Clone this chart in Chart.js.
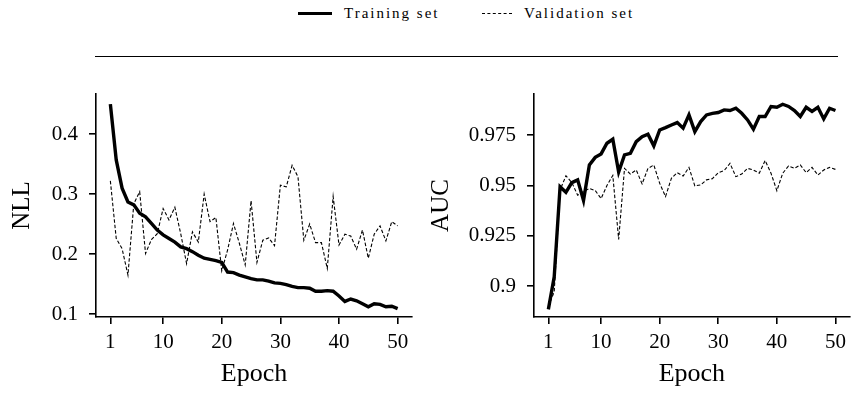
<!DOCTYPE html>
<html>
<head>
<meta charset="utf-8">
<script src="https://cdn.jsdelivr.net/npm/chart.js@4"></script>
<style>
  body { margin: 0; background: #fff; }
  #wrap { position: relative; width: 852px; height: 394px; font-family: "Liberation Serif", serif; }
  canvas { position: absolute; top: 0; }
  #nll { left: 0; }
  #auc { left: 426px; }
  .key { position: absolute; top: 5px; font-size: 15px; letter-spacing: 2px; color: #000; white-space: nowrap; }
  .sample { display: inline-block; width: 34px; vertical-align: middle; margin-right: 12px; position: relative; top: -1px; }
  #rule { position: absolute; left: 95px; top: 56px; width: 743px; height: 0; border-top: 1.8px solid #000; }
</style>
</head>
<body>
<div id="wrap">
  <div class="key" style="left:298px"><span class="sample" style="border-top:3px solid #000"></span>Training set</div>
  <div class="key" style="left:482px"><span class="sample" style="width:30px;border-top:1px dashed #000"></span>Validation set</div>
  <div id="rule"></div>
  <canvas id="nll" width="426" height="394"></canvas>
  <canvas id="auc" width="426" height="394"></canvas>
</div>
<script>
//=====================================
// data
//=====================================
var epochs = [];
for (let e = 1; e <= 50; e++) epochs.push(e);

var xTicks = [1, 10, 20, 30, 40, 50];

var nllTrain = [0.450, 0.357, 0.310, 0.287, 0.282, 0.268, 0.262, 0.251, 0.240, 0.232,
                0.226, 0.220, 0.212, 0.209, 0.204, 0.198, 0.193, 0.191, 0.189, 0.186,
                0.170, 0.169, 0.165, 0.162, 0.159, 0.157, 0.157, 0.155, 0.152, 0.151,
                0.149, 0.146, 0.144, 0.144, 0.143, 0.138, 0.138, 0.139, 0.138, 0.130,
                0.121, 0.125, 0.122, 0.117, 0.112, 0.117, 0.116, 0.112, 0.113, 0.109];
var nllValid = [0.322, 0.226, 0.209, 0.165, 0.284, 0.304, 0.201, 0.224, 0.234, 0.276,
                0.257, 0.278, 0.234, 0.184, 0.237, 0.220, 0.300, 0.254, 0.261, 0.172,
                0.207, 0.251, 0.218, 0.182, 0.289, 0.186, 0.223, 0.227, 0.214, 0.315,
                0.312, 0.348, 0.329, 0.223, 0.250, 0.219, 0.219, 0.176, 0.296, 0.215,
                0.233, 0.230, 0.208, 0.240, 0.193, 0.233, 0.247, 0.222, 0.254, 0.247];
var nllTicks = [0.1, 0.2, 0.3, 0.4];
var nllTickLabels = ["0.1", "0.2", "0.3", "0.4"];

var aucTrain = [0.8884, 0.9046, 0.9494, 0.9466, 0.9514, 0.9528, 0.9425, 0.9602, 0.9640, 0.9657,
                0.9710, 0.9730, 0.9567, 0.9652, 0.9660, 0.9718, 0.9743, 0.9755, 0.9697, 0.9776,
                0.9788, 0.9801, 0.9813, 0.9785, 0.9851, 0.9768, 0.9818, 0.9851, 0.9859, 0.9863,
                0.9876, 0.9873, 0.9884, 0.9859, 0.9826, 0.9780, 0.9843, 0.9843, 0.9893, 0.9889,
                0.9904, 0.9893, 0.9873, 0.9843, 0.9889, 0.9868, 0.9889, 0.9831, 0.9884, 0.9873];
var aucValid = [0.8897, 0.8972, 0.9478, 0.9548, 0.9515, 0.9452, 0.9470, 0.9485, 0.9475, 0.9435,
                0.9500, 0.9550, 0.9232, 0.9585, 0.9557, 0.9577, 0.9508, 0.9585, 0.9602, 0.9511,
                0.9445, 0.9536, 0.9564, 0.9547, 0.9590, 0.9498, 0.9503, 0.9528, 0.9534, 0.9564,
                0.9574, 0.9610, 0.9544, 0.9557, 0.9585, 0.9577, 0.9561, 0.9624, 0.9561, 0.9474,
                0.9561, 0.9597, 0.9585, 0.9602, 0.9564, 0.9590, 0.9552, 0.9577, 0.9590, 0.9580];
var aucTicks = [0.9, 0.925, 0.95, 0.975];
var aucTickLabels = ["0.9", "0.925", "0.95", "0.975"];

//=====================================
// chart
//=====================================
function points(vals) {
  return epochs.map(function (e, i) { return { x: e, y: vals[i] }; });
}

function axisLook(pad) {
  return {
    border: { display: true, color: '#000', width: 1.6 },
    grid: { display: true, drawOnChartArea: false, drawTicks: true, tickLength: 7, color: '#000', lineWidth: 1.6 },
    ticks: { color: '#000', padding: pad, font: { family: 'Liberation Serif', size: 21 } }
  };
}

function makeChart(id, train, valid, yMin, yMax, yTicks, yLabels, yTitle, padRight) {
  var x = axisLook(6);
  x.type = 'linear';
  x.min = -1.45;
  x.max = 52.45;
  x.afterBuildTicks = function (s) { s.ticks = xTicks.map(function (v) { return { value: v }; }); };
  x.ticks.callback = function (v) { return String(v); };
  x.ticks.maxRotation = 0;
  x.title = { display: true, text: 'Epoch', color: '#000', padding: { top: 0, bottom: 4 }, font: { family: 'Liberation Serif', size: 26 } };
  x.afterFit = function (s) { s.height = 77; };

  var y = axisLook(11);
  y.min = yMin;
  y.max = yMax;
  y.afterBuildTicks = function (s) { s.ticks = yTicks.map(function (v) { return { value: v }; }); };
  y.ticks.callback = function (v) { return yLabels[yTicks.indexOf(v)]; };
  y.title = { display: true, text: yTitle, color: '#000', padding: { top: id === 'nll' ? 7 : 0, bottom: 0 }, font: { family: 'Liberation Serif', size: 25 } };
  y.afterFit = function (s) { s.width = id === 'nll' ? 96 : 108; };

  return new Chart(document.getElementById(id), {
    type: 'line',
    data: {
      datasets: [
        { label: 'Training set', data: points(train), borderColor: '#000', borderWidth: 3.4,
          pointRadius: 0, tension: 0, order: 1 },
        { label: 'Validation set', data: points(valid), borderColor: '#000', borderWidth: 1.1,
          borderDash: [3.5, 2], pointRadius: 0, tension: 0, order: 0 }
      ]
    },
    options: {
      responsive: false,
      animation: false,
      layout: { padding: { top: 94, right: padRight, left: 0, bottom: 0 } },
      plugins: { legend: { display: false }, tooltip: { enabled: false } },
      scales: { x: x, y: y }
    }
  });
}

makeChart('nll', nllTrain, nllValid, 0.095, 0.467, nllTicks, nllTickLabels, 'NLL', 14);
makeChart('auc', aucTrain, aucValid, 0.8846, 0.9955, aucTicks, aucTickLabels, 'AUC', 1);
</script>
</body>
</html>
